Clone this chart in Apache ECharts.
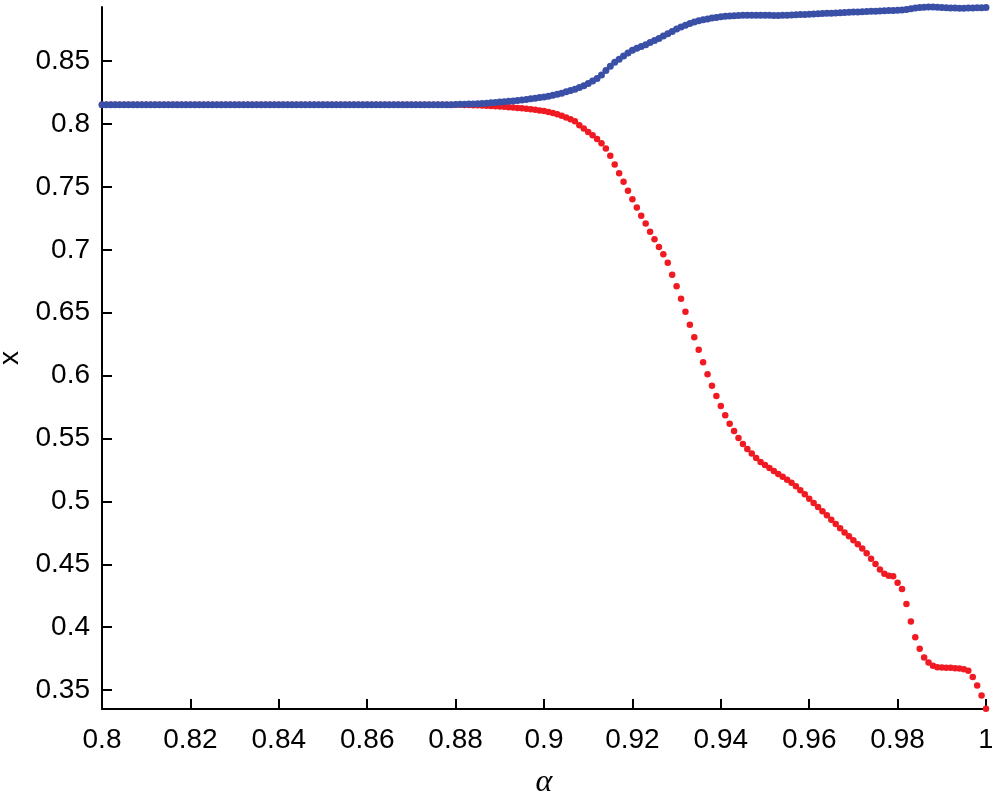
<!DOCTYPE html>
<html lang="en">

<head>
    <meta http-equiv="Content-Type" content="text/html; charset=UTF-8">
    <title>x vs alpha</title>
    <style>
        html, body {
            margin: 0;
            padding: 0;
            background: #fff;
        }
    </style>
    <script src="https://cdn.jsdelivr.net/npm/echarts@6/dist/echarts.min.js"></script>
</head>

<body>
<div id="main" style="width: 992px;height:796px;"></div>
<script>
    // alpha values, one per dot (step 0.001)
    var alpha = [
        0.800, 0.801, 0.802, 0.803, 0.804, 0.805, 0.806, 0.807, 0.808, 0.809,
        0.810, 0.811, 0.812, 0.813, 0.814, 0.815, 0.816, 0.817, 0.818, 0.819,
        0.820, 0.821, 0.822, 0.823, 0.824, 0.825, 0.826, 0.827, 0.828, 0.829,
        0.830, 0.831, 0.832, 0.833, 0.834, 0.835, 0.836, 0.837, 0.838, 0.839,
        0.840, 0.841, 0.842, 0.843, 0.844, 0.845, 0.846, 0.847, 0.848, 0.849,
        0.850, 0.851, 0.852, 0.853, 0.854, 0.855, 0.856, 0.857, 0.858, 0.859,
        0.860, 0.861, 0.862, 0.863, 0.864, 0.865, 0.866, 0.867, 0.868, 0.869,
        0.870, 0.871, 0.872, 0.873, 0.874, 0.875, 0.876, 0.877, 0.878, 0.879,
        0.880, 0.881, 0.882, 0.883, 0.884, 0.885, 0.886, 0.887, 0.888, 0.889,
        0.890, 0.891, 0.892, 0.893, 0.894, 0.895, 0.896, 0.897, 0.898, 0.899,
        0.900, 0.901, 0.902, 0.903, 0.904, 0.905, 0.906, 0.907, 0.908, 0.909,
        0.910, 0.911, 0.912, 0.913, 0.914, 0.915, 0.916, 0.917, 0.918, 0.919,
        0.920, 0.921, 0.922, 0.923, 0.924, 0.925, 0.926, 0.927, 0.928, 0.929,
        0.930, 0.931, 0.932, 0.933, 0.934, 0.935, 0.936, 0.937, 0.938, 0.939,
        0.940, 0.941, 0.942, 0.943, 0.944, 0.945, 0.946, 0.947, 0.948, 0.949,
        0.950, 0.951, 0.952, 0.953, 0.954, 0.955, 0.956, 0.957, 0.958, 0.959,
        0.960, 0.961, 0.962, 0.963, 0.964, 0.965, 0.966, 0.967, 0.968, 0.969,
        0.970, 0.971, 0.972, 0.973, 0.974, 0.975, 0.976, 0.977, 0.978, 0.979,
        0.980, 0.981, 0.982, 0.983, 0.984, 0.985, 0.986, 0.987, 0.988, 0.989,
        0.990, 0.991, 0.992, 0.993, 0.994, 0.995, 0.996, 0.997, 0.998, 0.999,
        1.000
    ];
    // lower branch (red)
    var xLow = [
        0.8153, 0.8153, 0.8153, 0.8153, 0.8153, 0.8153, 0.8153, 0.8153, 0.8153, 0.8153,
        0.8153, 0.8153, 0.8153, 0.8153, 0.8153, 0.8153, 0.8153, 0.8153, 0.8153, 0.8153,
        0.8153, 0.8153, 0.8153, 0.8153, 0.8153, 0.8153, 0.8153, 0.8153, 0.8153, 0.8153,
        0.8153, 0.8153, 0.8153, 0.8153, 0.8153, 0.8153, 0.8153, 0.8153, 0.8153, 0.8153,
        0.8153, 0.8153, 0.8153, 0.8153, 0.8153, 0.8153, 0.8153, 0.8153, 0.8153, 0.8153,
        0.8153, 0.8153, 0.8153, 0.8153, 0.8153, 0.8153, 0.8153, 0.8153, 0.8153, 0.8153,
        0.8153, 0.8153, 0.8153, 0.8153, 0.8153, 0.8153, 0.8153, 0.8153, 0.8153, 0.8153,
        0.8153, 0.8153, 0.8153, 0.8153, 0.8153, 0.8153, 0.8153, 0.8153, 0.8153, 0.8153,
        0.8153, 0.8153, 0.8152, 0.8151, 0.8150, 0.8149, 0.8148, 0.8146, 0.8144, 0.8142,
        0.8140, 0.8137, 0.8134, 0.8131, 0.8128, 0.8126, 0.8122, 0.8118, 0.8113, 0.8108,
        0.8103, 0.8096, 0.8088, 0.8078, 0.8066, 0.8052, 0.8038, 0.8022, 0.7990, 0.7965,
        0.7937, 0.7910, 0.7880, 0.7846, 0.7806, 0.7748, 0.7679, 0.7608, 0.7541, 0.7469,
        0.7401, 0.7337, 0.7270, 0.7210, 0.7144, 0.7083, 0.7022, 0.6964, 0.6897, 0.6802,
        0.6710, 0.6611, 0.6508, 0.6405, 0.6305, 0.6205, 0.6106, 0.6011, 0.5920, 0.5838,
        0.5759, 0.5685, 0.5618, 0.5560, 0.5504, 0.5457, 0.5417, 0.5380, 0.5345, 0.5314,
        0.5290, 0.5266, 0.5242, 0.5218, 0.5197, 0.5173, 0.5149, 0.5121, 0.5089, 0.5057,
        0.5022, 0.4988, 0.4956, 0.4922, 0.4890, 0.4855, 0.4821, 0.4787, 0.4752, 0.4723,
        0.4691, 0.4660, 0.4625, 0.4588, 0.4545, 0.4503, 0.4458, 0.4425, 0.4410, 0.4405,
        0.4354, 0.4304, 0.4185, 0.4045, 0.3921, 0.3828, 0.3759, 0.3719, 0.3693, 0.3682,
        0.3679, 0.3677, 0.3677, 0.3674, 0.3671, 0.3666, 0.3655, 0.3605, 0.3536, 0.3457,
        0.3351
    ];
    // upper branch (blue)
    var xHigh = [
        0.8153, 0.8153, 0.8153, 0.8153, 0.8153, 0.8153, 0.8153, 0.8153, 0.8153, 0.8153,
        0.8153, 0.8153, 0.8153, 0.8153, 0.8153, 0.8153, 0.8153, 0.8153, 0.8153, 0.8153,
        0.8153, 0.8153, 0.8153, 0.8153, 0.8153, 0.8153, 0.8153, 0.8153, 0.8153, 0.8153,
        0.8153, 0.8153, 0.8153, 0.8153, 0.8153, 0.8153, 0.8153, 0.8153, 0.8153, 0.8153,
        0.8153, 0.8153, 0.8153, 0.8153, 0.8153, 0.8153, 0.8153, 0.8153, 0.8153, 0.8153,
        0.8153, 0.8153, 0.8153, 0.8153, 0.8153, 0.8153, 0.8153, 0.8153, 0.8153, 0.8153,
        0.8153, 0.8153, 0.8153, 0.8153, 0.8153, 0.8153, 0.8153, 0.8153, 0.8153, 0.8153,
        0.8153, 0.8153, 0.8153, 0.8153, 0.8153, 0.8153, 0.8153, 0.8153, 0.8154, 0.8154,
        0.8155, 0.8156, 0.8157, 0.8158, 0.8159, 0.8161, 0.8163, 0.8165, 0.8168, 0.8171,
        0.8174, 0.8177, 0.8180, 0.8183, 0.8187, 0.8191, 0.8195, 0.8200, 0.8205, 0.8210,
        0.8215, 0.8221, 0.8228, 0.8236, 0.8245, 0.8256, 0.8266, 0.8277, 0.8290, 0.8305,
        0.8322, 0.8341, 0.8362, 0.8390, 0.8425, 0.8460, 0.8490, 0.8515, 0.8540, 0.8565,
        0.8587, 0.8602, 0.8616, 0.8630, 0.8648, 0.8663, 0.8680, 0.8700, 0.8718, 0.8735,
        0.8755, 0.8772, 0.8785, 0.8798, 0.8810, 0.8820, 0.8828, 0.8835, 0.8842, 0.8847,
        0.8852, 0.8856, 0.8859, 0.8861, 0.8863, 0.8864, 0.8865, 0.8865, 0.8865, 0.8864,
        0.8864, 0.8864, 0.8863, 0.8863, 0.8864, 0.8865, 0.8867, 0.8869, 0.8870, 0.8871,
        0.8873, 0.8875, 0.8877, 0.8878, 0.8880, 0.8881, 0.8883, 0.8885, 0.8886, 0.8888,
        0.8890, 0.8891, 0.8893, 0.8894, 0.8896, 0.8897, 0.8899, 0.8900, 0.8902, 0.8903,
        0.8905, 0.8907, 0.8911, 0.8916, 0.8922, 0.8927, 0.8929, 0.8930, 0.8930, 0.8929,
        0.8927, 0.8925, 0.8923, 0.8922, 0.8921, 0.8921, 0.8922, 0.8923, 0.8924, 0.8925,
        0.8926
    ];
    var yTicks = [0.35, 0.4, 0.45, 0.5, 0.55, 0.6, 0.65, 0.7, 0.75, 0.8, 0.85];

    function pairs(xs, ys) {
        var out = [];
        for (var i = 0; i < xs.length; i++) {
            out.push([xs[i], ys[i]]);
        }
        return out;
    }

    var myChart = echarts.init(document.getElementById('main'));
    var axisFont = {color: '#000', fontSize: 28, fontFamily: 'Liberation Sans'};

    var option = {
        animation: false,
        backgroundColor: '#fff',
        grid: {left: 102, right: 6, top: 7, bottom: 87, containLabel: false, outerBoundsMode: 'none'},
        xAxis: {
            type: 'value',
            min: 0.8,
            max: 1,
            interval: 0.02,
            name: 'α',
            nameLocation: 'middle',
            nameGap: 58,
            nameTextStyle: {color: '#000', fontSize: 32, fontStyle: 'italic', fontFamily: 'Liberation Serif'},
            axisLine: {show: true, onZero: false, lineStyle: {color: '#000', width: 2}},
            axisTick: {show: true, inside: true, length: 10, lineStyle: {color: '#000', width: 2}},
            axisLabel: Object.assign({margin: 17}, axisFont),
            splitLine: {show: false}
        },
        yAxis: {
            type: 'value',
            min: 0.335,
            max: 0.893,
            name: 'x',
            nameLocation: 'middle',
            nameRotate: 90,
            nameGap: 74,
            nameTextStyle: {color: '#000', fontSize: 28, fontFamily: 'Liberation Sans'},
            axisLine: {show: true, onZero: false, lineStyle: {color: '#000', width: 2}},
            axisTick: {show: true, inside: true, length: 10, customValues: yTicks, lineStyle: {color: '#000', width: 2}},
            axisLabel: Object.assign({margin: 12, customValues: yTicks}, axisFont),
            splitLine: {show: false}
        },
        series: [{
            name: 'low',
            type: 'scatter',
            clip: false,
            symbol: 'circle',
            symbolSize: 6.5,
            itemStyle: {color: '#f01a22', opacity: 1},
            data: pairs(alpha, xLow)
        }, {
            name: 'high',
            type: 'scatter',
            clip: false,
            symbol: 'circle',
            symbolSize: 7,
            itemStyle: {color: '#3a4fa6', opacity: 1},
            data: pairs(alpha, xHigh)
        }]
    };

    myChart.setOption(option);
</script>
</body>

</html>
